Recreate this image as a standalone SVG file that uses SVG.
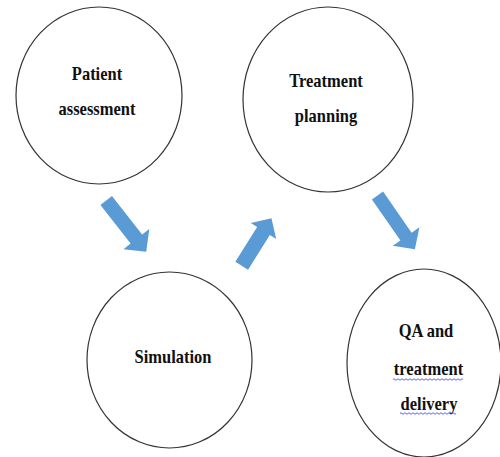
<svg xmlns="http://www.w3.org/2000/svg" width="500" height="457" viewBox="0 0 500 457">
<style>
.node ellipse{fill:#fff;stroke:#333;stroke-width:1.2}
.lbl{font-family:"Liberation Serif","Times New Roman",serif;font-weight:bold;font-size:16.5px;fill:#111;text-anchor:middle}
.arrow{fill:#5B9BD5}
.wavy{fill:none;stroke:#3a3aff;stroke-width:0.8}
</style>
<rect width="500" height="457" fill="#fff"/>
<g id="connectors">
<polygon class="arrow" transform="translate(106.2,200.5) rotate(52)" points="0,-7.3 49,-7.3 49,-16.4 65,0 49,16.4 49,7.3 0,7.3"/>
<polygon class="arrow" transform="translate(241.7,265.8) rotate(-57.9)" points="0,-7.5 41,-7.5 41,-15 56,0 41,15 41,7.5 0,7.5"/>
<polygon class="arrow" transform="translate(377.5,195.5) rotate(55.2)" points="0,-6.8 50,-6.8 50,-16.3 65.5,0 50,16.3 50,6.8 0,6.8"/>
</g>
<g id="patient-assessment" class="node">
<ellipse cx="99" cy="95.5" rx="83" ry="88.5"/>
<text class="lbl" transform="translate(97,80) scale(1,1.2)">Patient</text>
<text class="lbl" transform="translate(97,115) scale(1,1.2)">assessment</text>
</g>
<g id="treatment-planning" class="node">
<ellipse cx="328" cy="99.5" rx="85" ry="92.5"/>
<text class="lbl" transform="translate(326,87) scale(1,1.2)">Treatment</text>
<text class="lbl" transform="translate(326,122) scale(1,1.2)">planning</text>
</g>
<g id="simulation" class="node">
<ellipse cx="169.5" cy="360" rx="82.5" ry="88"/>
<text class="lbl" transform="translate(173,363) scale(1,1.2)">Simulation</text>
</g>
<g id="qa-treatment-delivery" class="node">
<ellipse cx="424" cy="363" rx="77" ry="94"/>
<text class="lbl" transform="translate(426,337) scale(1,1.2)">QA and</text>
<text class="lbl" transform="translate(428.5,375) scale(1,1.2)">treatment</text>
<text class="lbl" transform="translate(429,410) scale(1,1.2)">delivery</text>
<path class="wavy" d="M393 379.5 q1 -1.5 2 0 t2 0 t2 0 t2 0 t2 0 t2 0 t2 0 t2 0 t2 0 t2 0 t2 0 t2 0 t2 0 t2 0 t2 0 t2 0 t2 0 t2 0 t2 0 t2 0 t2 0 t2 0 t2 0 t2 0 t2 0 t2 0 t2 0 t2 0 t2 0 t2 0 t2 0 t2 0 t2 0 t2 0 t2 0"/>
<path class="wavy" d="M400 413.5 q1 -1.5 2 0 t2 0 t2 0 t2 0 t2 0 t2 0 t2 0 t2 0 t2 0 t2 0 t2 0 t2 0 t2 0 t2 0 t2 0 t2 0 t2 0 t2 0 t2 0 t2 0 t2 0 t2 0 t2 0 t2 0 t2 0 t2 0 t2 0 t2 0"/>
</g>
</svg>
